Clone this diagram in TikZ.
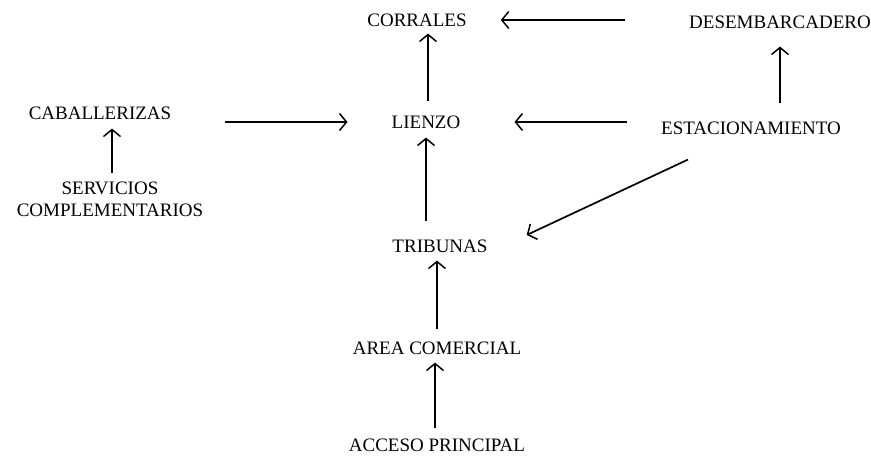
\documentclass[tikz,border=0pt]{standalone}
\usepackage{fontspec}
\setmainfont{Liberation Serif}
\usepackage{tikz}
\usetikzlibrary{arrows.meta,positioning}
\tikzstyle{flecha} = [line width=1.7pt,-{Straight Barb[length=7pt,width=17pt,line width=1.5pt]}]
\tikzstyle{zona} = [font=\fontsize{19}{22}\selectfont, inner sep=2pt, align=center]

\begin{document}
\begin{tikzpicture}[x=1pt, y=-1pt]
    \useasboundingbox (0,0) rectangle (871,462);
    % Upper row
    \node[zona] (corrales) at (417, 20) {CORRALES};
    \node[zona] (desemb) at (780, 22) {DESEMBARCADERO};

    % Middle row
    \node[zona] (caball) at (100, 113) {CABALLERIZAS};
    \node[zona] (lienzo) at (426, 122) {LIENZO};
    \node[zona] (estac) at (751, 128) {ESTACIONAMIENTO};
    \node[zona] (serv) at (110, 199) {SERVICIOS\\COMPLEMENTARIOS};

    % Access line
    \node[zona] (trib) at (440, 246) {TRIBUNAS};
    \node[zona] (area) at (437, 348) {AREA COMERCIAL};
    \node[zona] (acceso) at (437, 445) {ACCESO PRINCIPAL};

    \draw[flecha, shorten <=62pt, shorten >=32pt] (desemb.west |- corrales.east) -- (corrales.east);
    \draw[flecha, shorten <=12pt, shorten >=5pt] ([xshift=2pt]lienzo.north) -- ([xshift=2pt]lienzo.north |- corrales.south);
    \draw[flecha, shorten <=32pt, shorten >=52pt] (estac.west |- lienzo.east) -- (lienzo.east);
    \draw[flecha, shorten <=52pt, shorten >=42pt] (caball.east |- lienzo.west) -- (lienzo.west);
    \draw[flecha, shorten <=6pt, shorten >=7pt] ([xshift=2pt]serv.north) -- ([xshift=2pt]serv.north |- caball.south);
    \draw[flecha, shorten <=16pt, shorten >=16pt] (desemb.south |- estac.north) -- (desemb.south);
    \draw[flecha, shorten <=16pt, shorten >=7pt] (trib.north -| lienzo.south) -- (lienzo.south);
    \draw[flecha] ([xshift=-63pt,yshift=-23pt]estac.south) -- ([xshift=37pt,yshift=11pt]trib.east);
    \draw[flecha, shorten <=10pt, shorten >=6pt] (area.north) -- (area.north |- trib.south);
    \draw[flecha, shorten <=8pt, shorten >=6pt] ([xshift=-2pt]acceso.north) -- ([xshift=-2pt]area.south);
\end{tikzpicture}
\end{document}
